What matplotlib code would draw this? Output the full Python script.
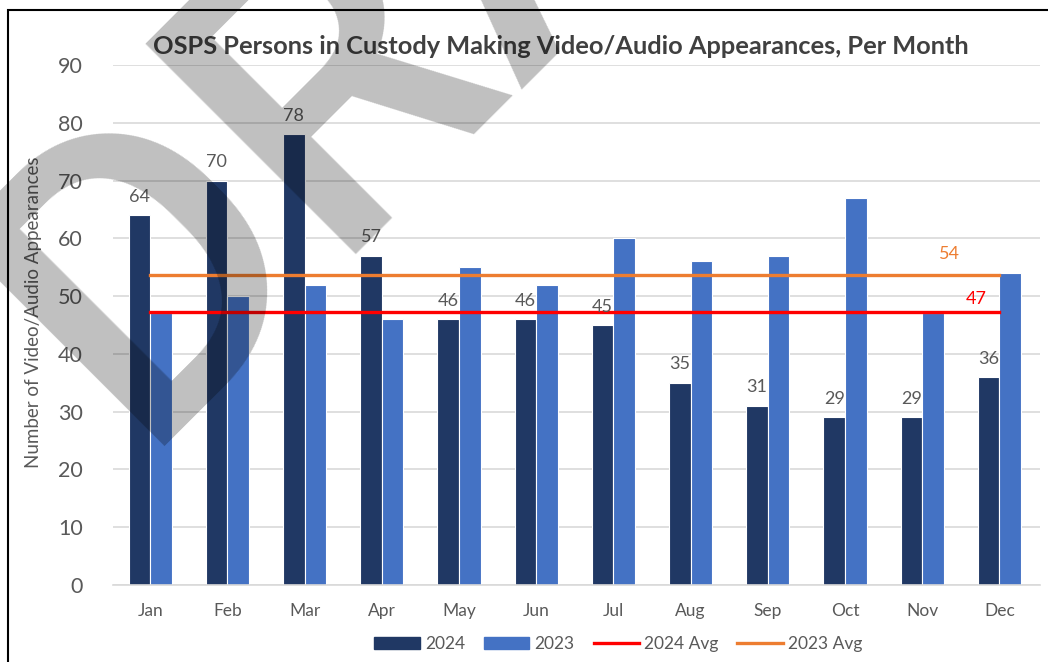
import matplotlib.pyplot as plt
import numpy as np
from matplotlib.patches import Rectangle, Patch
from matplotlib.lines import Line2D

# ── Data ───────────────────────────────────────────────
months = ["Jan", "Feb", "Mar", "Apr", "May", "Jun",
          "Jul", "Aug", "Sep", "Oct", "Nov", "Dec"]
vals_2024 = [64, 70, 78, 57, 46, 46, 45, 35, 31, 29, 29, 36]
vals_2023 = [47, 50, 52, 46, 55, 52, 60, 56, 57, 67, 47, 54]
avg_2024 = 47.2
avg_2023 = 53.6

NAVY = "#203864"
BLUE = "#4472C4"
RED = "#FF0000"
ORANGE = "#ED7D31"
TXT = "#595959"

plt.rcParams["font.family"] = ["Lato", "DejaVu Sans"]

# ── Figure ─────────────────────────────────────────────
fig = plt.figure(figsize=(10.48, 6.62), dpi=100)
ax = fig.add_axes([0.108, 0.1163, 0.884, 0.7855])

x = np.arange(len(months))
w = 0.28
ax.bar(x - w / 2, vals_2024, w, color=NAVY, edgecolor="white", linewidth=0.8, zorder=2)
ax.bar(x + w / 2, vals_2023, w, color=BLUE, edgecolor="white", linewidth=0.8, zorder=2)

ax.plot([x[0], x[-1]], [avg_2024, avg_2024], color=RED, lw=2.4, zorder=3)
ax.plot([x[0], x[-1]], [avg_2023, avg_2023], color=ORANGE, lw=2.4, zorder=3)

for xi, v in zip(x, vals_2024):
    ax.text(xi - w / 2, v + 1.8, str(v), ha="center", va="bottom", fontsize=13, color=TXT)

ax.text(10.35, avg_2023 + 2.3, f"{avg_2023:.0f}", ha="center", va="bottom", fontsize=13, color=ORANGE)
ax.text(10.7, avg_2024 + 0.9, f"{avg_2024:.0f}", ha="center", va="bottom", fontsize=13, color=RED)

ax.set_xlim(-0.48, 11.52)
ax.set_ylim(0, 90)
ax.set_yticks(range(0, 91, 10))
ax.set_xticks(x)
ax.set_xticklabels(months)
ax.tick_params(axis="y", length=0, labelsize=15.5, labelcolor=TXT, pad=22)
ax.tick_params(axis="x", length=0, labelsize=12.5, labelcolor=TXT, pad=13)
ax.grid(axis="y", color="#D9D9D9", lw=1.2, zorder=0)
ax.set_axisbelow(True)
for s in ["top", "right", "left"]:
    ax.spines[s].set_visible(False)
ax.spines["bottom"].set_color("#D9D9D9")
ax.spines["bottom"].set_linewidth(1.2)

ax.set_ylabel("Number of Video/Audio Appearances", fontsize=13.5, color=TXT)
ax.yaxis.set_label_coords(-0.077, 0.525)
fig.suptitle("OSPS Persons in Custody Making Video/Audio Appearances, Per Month",
             x=0.535, y=0.947, fontsize=18.3, fontweight="bold", color="#404040")

handles = [Patch(color=NAVY), Patch(color=BLUE),
           Line2D([], [], color=RED, lw=2.4), Line2D([], [], color=ORANGE, lw=2.4)]
fig.legend(handles, ["2024", "2023", "2024 Avg", "2023 Avg"], loc="center",
           bbox_to_anchor=(0.59, 0.027), ncol=4, frameon=False, fontsize=12.5,
           labelcolor=TXT, handlelength=2.6, columnspacing=1.1, handletextpad=0.3)

# chart border
fig.patches.append(Rectangle((8 / 1048, -0.05), 1.1, 1.05 - 10 / 662, transform=fig.transFigure,
                             fill=False, edgecolor="black", lw=1.5))

# watermark
fig.text(0.1279, 0.3263, "DRAFT", rotation=45, rotation_mode="anchor", ha="left", va="baseline",
         fontsize=300, family="Roboto", fontweight="medium", color="black", alpha=0.25, zorder=10)

fig.savefig("out.png", dpi=100)
